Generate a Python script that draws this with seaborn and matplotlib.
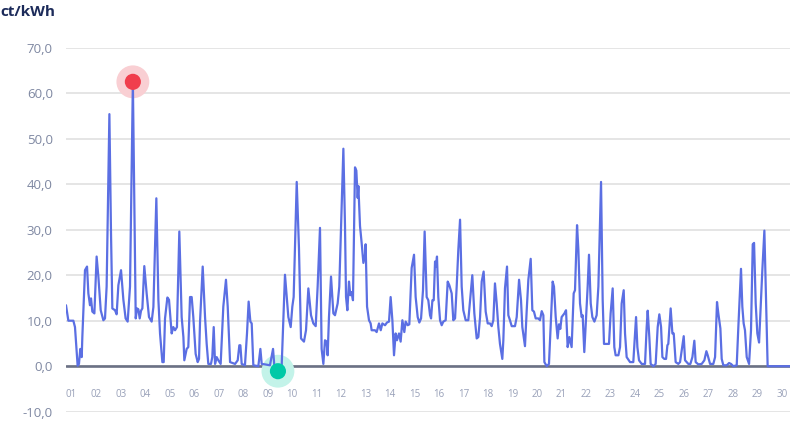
import numpy as np
import pandas as pd
import matplotlib
matplotlib.use("Agg")
import matplotlib.pyplot as plt
import seaborn as sns

# hours since the start of the month and price in ct/kWh
hours = [
    0.0, 2.3, 7.2, 8.8, 11.4, 12.7, 14.0, 15.4, 16.0, 18.6, 20.6, 21.9, 23.5, 24.5, 25.8, 27.8,
    30.0, 31.7, 34.0, 36.6, 38.2, 39.8, 42.5, 44.1, 45.4, 48.0, 49.6, 51.3, 53.9, 56.2, 58.4, 60.4,
    62.7, 65.5, 68.3, 69.6, 70.9, 72.2, 73.5, 74.8, 76.7, 79.0, 81.3, 83.9, 85.6, 88.5, 90.5, 92.1,
    94.4, 95.7, 97.0, 99.3, 100.9, 103.5, 105.1, 106.8, 108.7, 111.0, 113.3, 115.0, 115.9, 118.2,
    119.8, 121.5, 123.1, 124.7, 127.0, 129.0, 130.3, 131.3, 133.9, 136.2, 137.8, 139.4, 142.0,
    143.3, 144.7, 146.0, 147.6, 149.2, 151.5, 154.1, 156.7, 158.4, 160.7, 165.6, 168.2, 169.8,
    170.8, 172.1, 175.3, 177.3, 178.9, 180.6, 181.9, 183.5, 188.4, 190.4, 191.7, 194.9, 199.8,
    202.8, 204.1, 207.6, 211.3, 214.5, 217.8, 220.1, 221.7, 223.0, 226.0, 228.2, 230.2, 233.1,
    235.1, 237.4, 240.0, 242.3, 244.6, 246.5, 248.8, 250.4, 252.1, 253.7, 255.3, 256.3, 257.6,
    259.6, 261.9, 263.5, 266.1, 267.7, 269.4, 271.7, 273.3, 274.3, 275.6, 277.2, 278.5, 279.8,
    281.1, 283.1, 284.4, 285.7, 286.4, 288.0, 289.6, 291.3, 292.9, 293.5, 294.9, 296.8, 298.4,
    299.4, 302.7, 304.3, 306.6, 308.3, 309.9, 312.5, 314.4, 316.4, 318.0, 319.7, 321.3, 322.9,
    324.2, 326.2, 327.8, 329.5, 331.4, 332.7, 334.7, 336.3, 338.6, 340.9, 342.5, 344.5, 346.1,
    347.8, 349.7, 351.3, 353.3, 354.9, 356.6, 357.6, 358.9, 360.2, 361.5, 362.4, 363.4, 364.7,
    366.4, 368.0, 369.6, 371.9, 373.9, 375.5, 377.8, 379.4, 381.1, 382.7, 384.3, 386.0, 387.6,
    389.2, 391.5, 394.1, 395.8, 398.0, 400.0, 402.3, 403.9, 405.6, 407.2, 409.1, 411.1, 413.1,
    415.3, 417.0, 418.6, 420.2, 421.9, 423.5, 425.1, 427.4, 428.4, 430.0, 432.0, 433.3, 434.9,
    436.6, 439.8, 441.5, 443.8, 445.7, 447.0, 449.6, 451.3, 452.9, 455.2, 456.8, 458.4, 460.1,
    462.7, 464.3, 466.0, 467.6, 468.6, 470.9, 473.1, 475.1, 476.7, 478.0, 479.7, 481.6, 482.9,
    484.2, 485.5, 488.2, 489.8, 491.4, 493.1, 495.3, 497.3, 498.6, 500.6, 501.9, 503.5, 505.1,
    506.1, 507.7, 509.1, 511.0, 512.3, 514.0, 515.6, 517.6, 519.8, 521.5, 524.1, 525.7, 527.0,
    531.9, 533.5, 535.5, 537.1, 538.4, 541.1, 542.7, 544.3, 546.3, 547.6, 549.2, 552.5, 555.7,
    557.4, 558.4, 559.7, 561.3, 563.9, 567.2, 568.8, 569.8, 571.4, 572.7, 575.4, 577.6, 579.6,
    581.2, 582.9, 584.2, 586.1, 587.8, 589.1, 590.0, 592.3, 594.0, 595.3, 597.2, 599.8, 601.5,
    603.1, 605.1, 606.4, 609.6, 611.6, 613.6, 615.5, 616.8, 619.4, 622.7, 625.3, 627.3, 628.6,
    630.9, 634.1, 635.8, 637.7, 639.0, 641.0, 642.3, 643.9, 647.2, 649.5, 651.4, 653.7, 657.0,
    658.6, 661.2, 662.5, 663.8, 665.1, 666.8, 669.1, 671.0, 672.7, 674.0, 675.6, 677.2, 678.9,
    680.5, 682.1, 684.1, 685.7, 687.3, 709.2,
]
prices = [
    13.4, 10.0, 10.0, 8.6, 0.1, 0.5, 3.8, 2.0, 6.4, 21.1, 21.9, 16.0, 13.4, 14.9, 12.0, 11.6,
    24.1, 19.7, 12.3, 10.1, 10.5, 17.5, 55.4, 29.0, 12.7, 12.3, 11.4, 17.8, 21.1, 14.6, 10.5, 9.8,
    17.5, 62.5, 10.5, 12.7, 12.5, 10.5, 12.2, 12.7, 22.0, 16.0, 10.8, 9.8, 13.0, 36.9, 14.6, 7.2,
    0.9, 0.9, 10.5, 15.1, 14.6, 7.2, 8.6, 7.9, 8.6, 29.6, 10.8, 6.4, 1.3, 3.8,
    4.2, 15.2, 15.2, 10.8, 2.7, 0.9, 1.6, 9.8, 21.9, 10.8, 4.9, 0.5, 0.5,
    2.0, 8.6, 0.5, 2.0, 1.3, 0.5, 13.1, 19.0, 13.1, 0.9, 0.5, 1.3, 4.6,
    4.6, 0.5, 0.2, 7.2, 14.2, 9.8, 9.4, 0.2, 0.0, 3.8, 0.5, 0.4, 0.2,
    3.8, 0.0, -1.1, 0.3, 20.1, 10.8, 8.6, 13.1, 15.2, 40.5, 26.0, 6.1, 5.4,
    7.9, 17.1, 11.2, 9.4, 8.8, 17.5, 30.4, 3.8, 0.5, 5.7, 5.4, 2.4, 10.8,
    19.7, 11.6, 11.2, 13.8, 17.5, 30.4, 47.8, 30.8, 15.2, 12.3, 18.6, 15.6, 16.3,
    14.5, 43.7, 43.0, 37.0, 39.6, 30.8, 27.1, 22.7, 24.5, 26.8, 13.1, 10.1, 9.4,
    7.9, 7.9, 7.5, 9.4, 7.9, 9.4, 9.0, 9.6, 9.8, 15.2, 10.1, 2.4, 7.2,
    5.7, 7.2, 5.4, 10.1, 7.5, 9.8, 9.0, 9.2, 21.6, 24.5, 15.2, 10.8, 9.6,
    10.5, 16.7, 29.6, 15.2, 14.5, 11.2, 10.5, 14.5, 14.5, 23.0, 21.9, 24.1, 15.2,
    10.1, 9.0, 9.8, 10.1, 18.6, 17.8, 16.0, 10.1, 10.5, 17.5, 25.6, 32.2, 17.5,
    12.3, 10.1, 10.1, 14.5, 20.0, 11.6, 6.1, 6.4, 10.8, 18.6, 20.8, 12.0, 9.4,
    9.4, 8.8, 10.1, 18.2, 13.8, 8.6, 4.9, 1.6, 5.7, 17.1, 21.9, 11.2, 10.1,
    8.8, 8.8, 10.8, 19.0, 14.5, 8.6, 4.4, 12.3, 19.0, 23.6, 12.3, 12.0, 10.5,
    10.5, 10.1, 12.1, 11.2, 0.9, 0.0, 0.5, 10.8, 18.6, 17.5, 10.8, 6.1, 9.2,
    8.2, 10.8, 11.6, 12.3, 4.2, 6.4, 4.2, 16.0, 16.7, 31.0, 25.6, 13.8, 10.8,
    11.2, 3.1, 9.4, 17.5, 24.5, 13.8, 10.8, 9.8, 11.2, 17.5, 40.5, 14.6, 4.9,
    4.9, 11.6, 17.1, 4.2, 2.4, 2.4, 4.2, 13.8, 16.7, 7.2, 2.0, 0.9, 0.9,
    7.2, 10.8, 4.2, 1.3, 0.5, 0.5, 8.6, 12.2, 6.4, 0.5, 0.0, 0.5, 8.6,
    11.4, 8.6, 2.0, 1.6, 1.6, 4.6, 4.9, 12.7, 7.2, 7.2, 0.9, 0.5, 0.9,
    3.4, 6.6, 1.3, 0.5, 0.5, 2.0, 5.6, 0.9, 0.4, 0.5, 1.3, 3.3, 2.4,
    0.5, 0.5, 2.0, 14.1, 11.6, 8.3, 1.6, 0.2, 0.2, 0.7, 0.5, 0.0, 0.2,
    8.6, 21.4, 13.1, 9.4, 7.9, 2.0, 0.5, 7.9, 26.8, 27.1, 13.8, 7.2, 5.2,
    13.1, 21.1, 29.8, 14.6, 0.0, 0.0,
]
day_labels = [f"{d:02d}" for d in range(1, 31)]
y_ticks = [-10, 0, 10, 20, 30, 40, 50, 60, 70]
unit_title = "ct/kWh"

sns.set_theme(style="white")
plt.rcParams["font.family"] = ["Open Sans", "DejaVu Sans"]

start = pd.Timestamp("2024-04-01")
df = pd.DataFrame({"time": start + pd.to_timedelta(hours, unit="h"), "price": prices})

W, H = 792, 421
fig = plt.figure(figsize=(W / 100, H / 100), dpi=100)
ax = fig.add_axes([66 / W, (H - 411.7) / H, 724 / W, 364 / H])
ax.set_ylim(-10, 70)
ax.set_xlim(start, start + pd.Timedelta(hours=709.2))

for v in y_ticks:
    ax.axhline(v, color="#dedede", lw=1.1, zorder=0)
ax.axhline(0, color="#6b7184", lw=1.9, zorder=1)

sns.lineplot(data=df, x="time", y="price", color="#5b6fe3", lw=1.6, ax=ax, zorder=3)

imax = df["price"].idxmax()
imin = df["price"].idxmin()
mx = df.loc[[imax]]
mn = df.loc[[imin]]
sns.scatterplot(data=mx, x="time", y="price", s=560, color="#f9cfd3", edgecolor="none", ax=ax, zorder=2)
sns.scatterplot(data=mx, x="time", y="price", s=135, color="#f03e4d", edgecolor="none", ax=ax, zorder=4)
sns.scatterplot(data=mn, x="time", y="price", s=560, color="#c3f3e9", edgecolor="none", ax=ax, zorder=2)
sns.scatterplot(data=mn, x="time", y="price", s=135, color="#00c9a7", edgecolor="none", ax=ax, zorder=4)

ax.set_yticks(y_ticks)
ax.set_yticklabels([f"{v:.1f}".replace(".", ",") for v in y_ticks])
ax.tick_params(axis="y", length=0, pad=9.5, labelsize=9.5, labelcolor="#7f88a2")

ax.set_xticks(list(start + pd.to_timedelta(np.arange(30), unit="D")))
ax.set_xticklabels(day_labels)
ax.tick_params(axis="x", length=0, pad=-16.5, labelsize=7, labelcolor="#98a0b8")
for lab in ax.get_xticklabels():
    lab.set_ha("left")

ax.set_xlabel("")
ax.set_ylabel("")
ax.grid(False)
for s in ax.spines.values():
    s.set_visible(False)
ax.set_facecolor("white")

fig.text(0.0, (H - 16.3) / H, unit_title, ha="left", va="baseline",
         fontsize=11, fontweight="bold", color="#1c2b5a")

fig.savefig("out.png", dpi=100, facecolor="white")
